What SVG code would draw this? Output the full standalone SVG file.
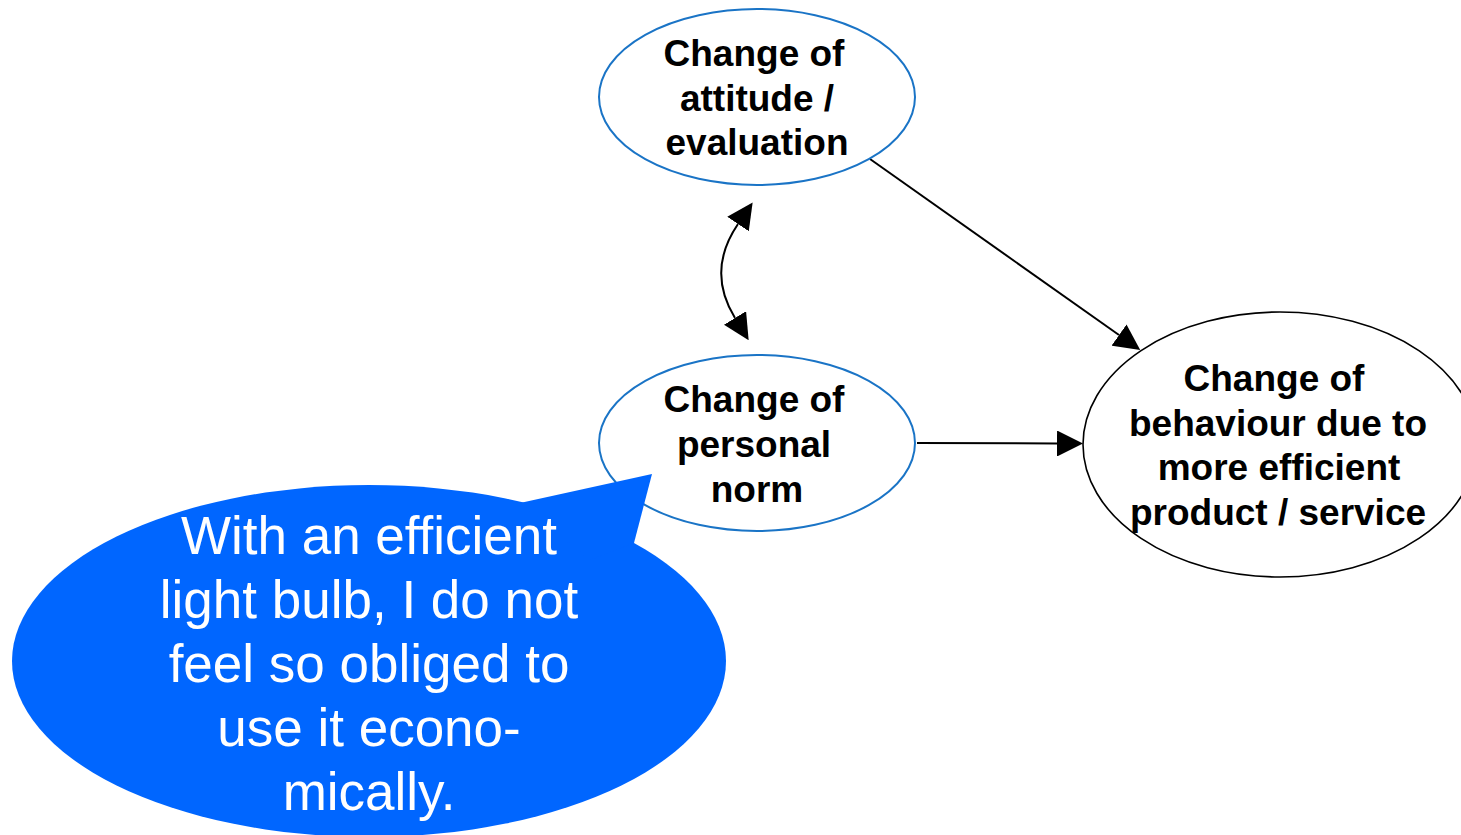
<svg xmlns="http://www.w3.org/2000/svg" width="1461" height="835" viewBox="0 0 1461 835">
  <style>
    .node-blue { fill: #ffffff; stroke: #1a74c6; stroke-width: 2; }
    .node-black { fill: #ffffff; stroke: #000000; stroke-width: 1.6; }
    .label { font-family: "Liberation Sans", Arial, sans-serif; font-weight: bold; font-size: 37px; fill: #000000; text-anchor: middle; }
    .edge { fill: none; stroke: #000000; stroke-width: 2; }
    .callout { fill: #0066ff; stroke: none; }
    .callout-text { font-family: "Liberation Sans", Arial, sans-serif; font-size: 53px; fill: #ffffff; text-anchor: middle; }
  </style>
  <defs>
    <marker id="arrow" markerUnits="userSpaceOnUse" markerWidth="26" markerHeight="26" refX="0" refY="13" orient="auto-start-reverse" viewBox="0 0 26 26">
      <path d="M0,0 L26,13 L0,26 z" fill="#000000"/>
    </marker>
  </defs>

  <rect width="1461" height="835" fill="#ffffff"/>

  <!-- connectors -->
  <g id="connectors">
    <path class="edge" d="M870,159 L1119,335" marker-end="url(#arrow)"/>
    <path class="edge" d="M917,443 L1057,443.5" marker-end="url(#arrow)"/>
    <path class="edge" d="M738,224 Q706,271 735,318" marker-start="url(#arrow)" marker-end="url(#arrow)"/>
  </g>

  <g id="node-attitude">
    <ellipse class="node-blue" cx="757" cy="97" rx="158" ry="88"/>
    <text class="label" x="754" y="66">Change of</text>
    <text class="label" x="757" y="111">attitude /</text>
    <text class="label" x="757" y="155">evaluation</text>
  </g>

  <g id="node-norm">
    <ellipse class="node-blue" cx="757" cy="443" rx="158" ry="88"/>
    <text class="label" x="754" y="412">Change of</text>
    <text class="label" x="754" y="457">personal</text>
    <text class="label" x="757" y="502">norm</text>
  </g>

  <g id="node-behaviour">
    <ellipse class="node-black" cx="1280" cy="444.5" rx="197" ry="132.5"/>
    <text class="label" x="1274" y="391">Change of</text>
    <text class="label" x="1278" y="436">behaviour due to</text>
    <text class="label" x="1279" y="480">more efficient</text>
    <text class="label" x="1278" y="525">product / service</text>
  </g>

  <g id="callout">
    <ellipse class="callout" cx="369" cy="661" rx="357" ry="176"/>
    <polygon class="callout" points="520,503 652,474 634,543 590,560"/>
    <text class="callout-text" x="369" y="554">With an efficient</text>
    <text class="callout-text" x="369" y="618">light bulb, I do not</text>
    <text class="callout-text" x="369" y="682">feel so obliged to</text>
    <text class="callout-text" x="369" y="746">use it econo-</text>
    <text class="callout-text" x="369" y="810">mically.</text>
  </g>
</svg>
